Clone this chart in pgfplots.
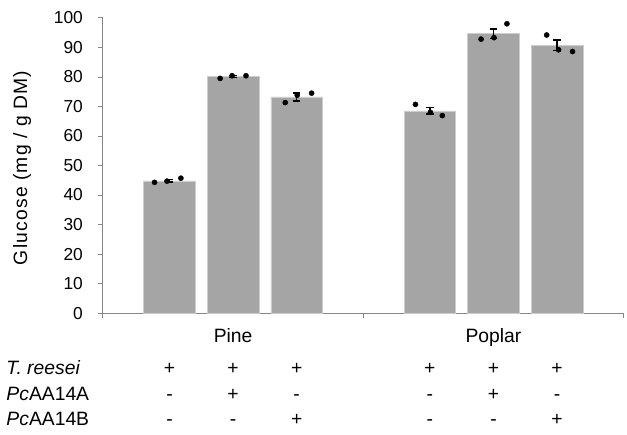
\documentclass[border=0pt]{standalone}
\usepackage{fontspec}
\setmainfont{Liberation Sans}
\usepackage{pgfplots}
\pgfplotsset{compat=1.18}

\definecolor{barfill}{RGB}{165,165,165}
\definecolor{baredge}{RGB}{205,205,205}
\definecolor{axisgray}{RGB}{134,134,134}
\newcommand{\lbl}{\fontsize{19.5}{22}\selectfont}

\begin{document}
\begin{tikzpicture}
\begin{axis}[
    width=524bp, height=297bp, scale only axis,
    xmin=0, xmax=524, ymin=0, ymax=100,
    axis x line=bottom, axis y line=left,
    axis line style={-, axisgray, line width=0.8bp},
    xtick={0,262,524}, xticklabels={},
    ytick={0,10,...,100},
    tick align=outside, major tick length=5bp,
    tick style={axisgray, line width=0.8bp},
    /pgf/number format/assume math mode=true,
    yticklabel style={font=\fontsize{17.5}{20}\selectfont, inner sep=0pt, xshift=-15bp},
    ylabel={Glucose (mg / g DM)},
    every axis y label/.style={at={(rel axis cs:-0.155,0.492)}, rotate=90, anchor=center,
        font=\lbl\addfontfeatures{LetterSpace=6}},
    clip=false,
]
% mean glucose with error bars
\addplot[ybar, bar width=52, fill=barfill, draw=baredge, line width=0.6bp,
    error bars/.cd, y dir=both, y explicit,
    error bar style={black, line width=1.5bp},
    error mark options={black, rotate=90, mark size=3.8bp, line width=1.5bp}]
coordinates {
    (67,44.8) +- (0,0.4)
    (131,80.1) +- (0,0.3)
    (195,73.2) +- (0,1.4)
    (329,68.5) +- (0,1.1)
    (393,94.7) +- (0,1.6)
    (457,90.7) +- (0,1.8)
};
% replicates
\addplot[only marks, mark=*, mark size=2.6bp, black] coordinates {
    (52,44.3) (64.5,44.7) (78.5,45.7)
    (118,79.5) (130,80.4) (144,80.4)
    (183.5,71.3) (195.5,73.8) (210,74.5)
    (314.5,70.7) (329.5,68.0) (341.5,66.9)
    (380.5,92.8) (393.5,93.3) (406.5,98.0)
    (446.5,94.2) (458.5,89.2) (472.5,88.6)
};

\node[anchor=base, font=\lbl] at (axis cs:131,-9.9) {Pine};
\node[anchor=base, font=\lbl] at (axis cs:393,-9.9) {Poplar};

\node[anchor=base west, font=\lbl] at (axis cs:-100.5,-20.9) {\textit{T. reesei}};
\node[anchor=base west, font=\lbl] at (axis cs:-100.5,-29.6) {\textit{Pc}AA14A};
\node[anchor=base west, font=\lbl] at (axis cs:-100.5,-38.0) {\textit{Pc}AA14B};

\node[anchor=base, font=\lbl] at (axis cs:67,-20.9) {+};
\node[anchor=base, font=\lbl] at (axis cs:131,-20.9) {+};
\node[anchor=base, font=\lbl] at (axis cs:195,-20.9) {+};
\node[anchor=base, font=\lbl] at (axis cs:329,-20.9) {+};
\node[anchor=base, font=\lbl] at (axis cs:393,-20.9) {+};
\node[anchor=base, font=\lbl] at (axis cs:457,-20.9) {+};

\node[anchor=base, font=\lbl] at (axis cs:67,-29.6) {-};
\node[anchor=base, font=\lbl] at (axis cs:131,-29.6) {+};
\node[anchor=base, font=\lbl] at (axis cs:195,-29.6) {-};
\node[anchor=base, font=\lbl] at (axis cs:329,-29.6) {-};
\node[anchor=base, font=\lbl] at (axis cs:393,-29.6) {+};
\node[anchor=base, font=\lbl] at (axis cs:457,-29.6) {-};

\node[anchor=base, font=\lbl] at (axis cs:67,-38.0) {-};
\node[anchor=base, font=\lbl] at (axis cs:131,-38.0) {-};
\node[anchor=base, font=\lbl] at (axis cs:195,-38.0) {+};
\node[anchor=base, font=\lbl] at (axis cs:329,-38.0) {-};
\node[anchor=base, font=\lbl] at (axis cs:393,-38.0) {-};
\node[anchor=base, font=\lbl] at (axis cs:457,-38.0) {+};

% page extent
\path (axis cs:-103.5,106.06) (axis cs:523.5,-41.08);
\end{axis}
\end{tikzpicture}
\end{document}
